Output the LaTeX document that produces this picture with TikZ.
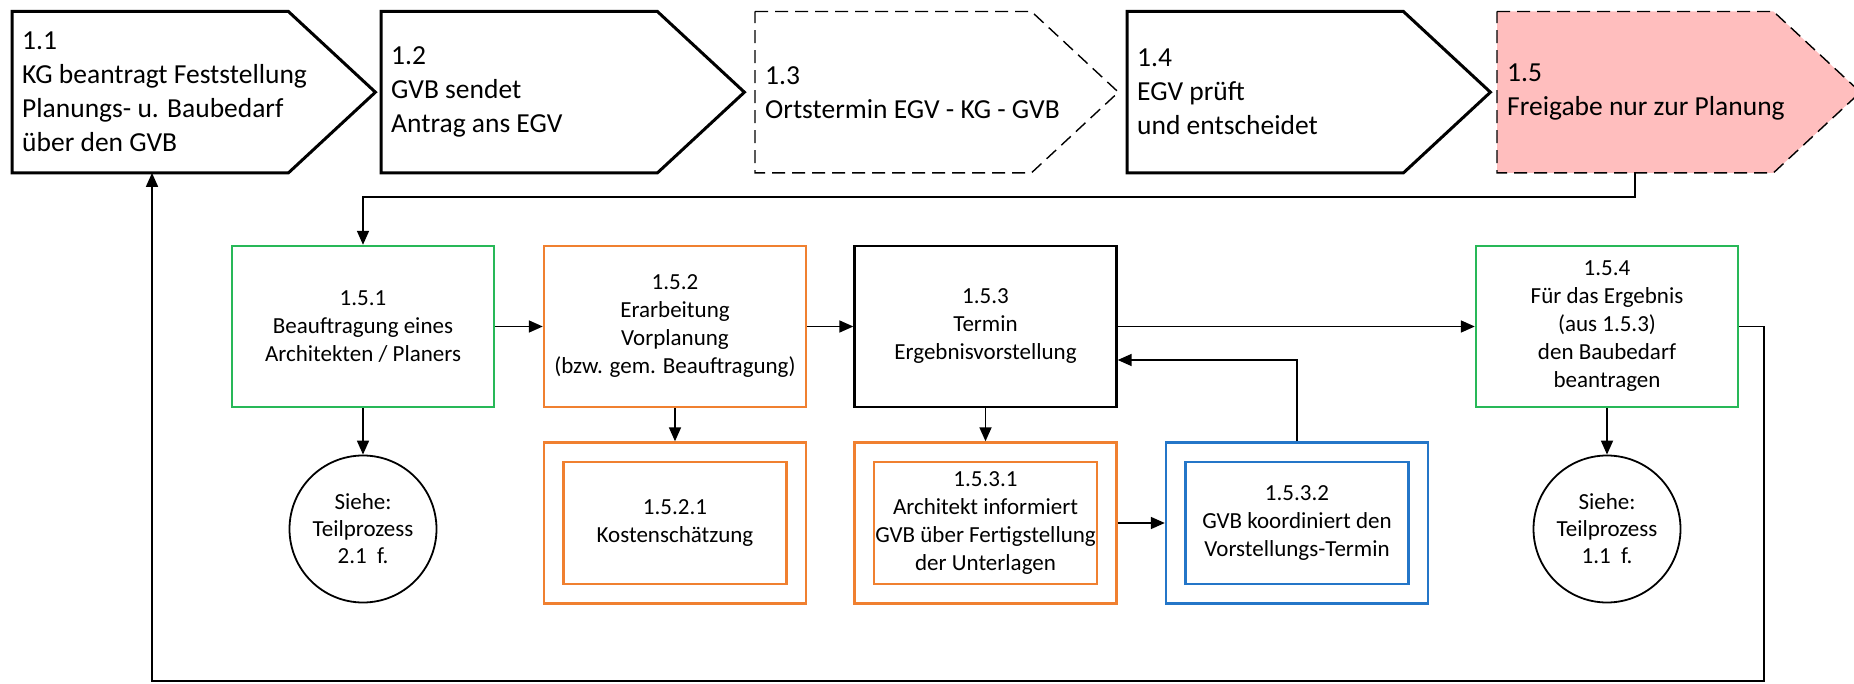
\documentclass[tikz,border=0pt]{standalone}
\usepackage{fontspec}
\setmainfont{Carlito}
\usetikzlibrary{arrows.meta,calc}

\definecolor{boxgreen}{RGB}{40,184,88}
\definecolor{boxorange}{RGB}{240,128,48}
\definecolor{boxblue}{RGB}{36,118,200}
\definecolor{stepred}{RGB}{255,190,190}

% chevron step: #1 name, #2 left x, #3 outline style, #4 text
\newcommand{\chevronstep}[4]{%
  \node[chevbody] (#1) at (#2,11.5) {};
  \draw[#3] (#1.north west) -- (#1.north east) -- ([xshift=87pt]#1.east)
        -- (#1.south east) -- (#1.south west) -- cycle;
  \node[chevtext] (#1t) at ([xshift=10pt]#1.west) {#4};
}

\begin{document}
\begin{tikzpicture}[x=1pt,y=-1pt,
  chevbody/.style={rectangle, anchor=north west, minimum width=276pt,
    minimum height=161pt, inner sep=0pt},
  chevtext/.style={anchor=west, align=left, inner sep=0pt,
    font=\fontsize{27.5}{34}\selectfont},
  boldline/.style={draw=black, line width=3pt},
  dashline/.style={draw=black, line width=1.4pt, dash pattern=on 13pt off 7pt},
  stepbox/.style={rectangle, minimum width=262pt, minimum height=161pt,
    line width=2.4pt, align=center, inner sep=0pt,
    font=\fontsize{23}{28}\selectfont},
  outerbox/.style={rectangle, minimum width=262pt, minimum height=161pt,
    line width=2.4pt, inner sep=0pt},
  innerbox/.style={rectangle, minimum width=223pt, minimum height=122pt,
    line width=2.4pt, align=center, inner sep=0pt,
    font=\fontsize{23}{28}\selectfont},
  refcircle/.style={circle, draw=black, line width=1.8pt, minimum size=147pt,
    align=center, inner sep=0pt, font=\fontsize{23}{27}\selectfont},
  conn/.style={line width=1.7pt, -{Triangle[length=14pt,width=12pt]}}
]
\useasboundingbox (0,0) rectangle (1854,684);

% top row of process steps
\chevronstep{c11}{12}{boldline}{1.1\\KG beantragt Feststellung\\Planungs- u. Baubedarf\\über den GVB}
\chevronstep{c12}{381}{boldline}{1.2\\GVB sendet\\Antrag ans EGV}
\chevronstep{c13}{755}{dashline}{1.3\\Ortstermin EGV - KG - GVB}
\chevronstep{c14}{1127}{boldline}{1.4\\EGV prüft\\und entscheidet}
\chevronstep{c15}{1497}{dashline,fill=stepred}{1.5\\Freigabe nur zur Planung}

% second row
\node[stepbox, draw=boxgreen] (b151) at (363,326.5)
  {1.5.1\\Beauftragung eines\\Architekten / Planers};
\node[stepbox, draw=boxorange] (b152) at (675,326.5)
  {1.5.2\\Erarbeitung\\Vorplanung\\(bzw. gem. Beauftragung)};
\node[stepbox, draw=black] (b153) at (985.5,326.5)
  {1.5.3\\Termin\\Ergebnisvorstellung};
\node[stepbox, draw=boxgreen] (b154) at (1607,326.5)
  {1.5.4\\Für das Ergebnis\\(aus 1.5.3)\\den Baubedarf\\beantragen};

% third row
\node[refcircle] (s21) at (363,529) {Siehe:\\Teilprozess\\2.1\ \ f.};
\node[outerbox, draw=boxorange] (o1521) at (675,523) {};
\node[innerbox, draw=boxorange] (i1521) at (o1521) {1.5.2.1\\Kostenschätzung};
\node[outerbox, draw=boxorange] (o1531) at (985.5,523) {};
\node[innerbox, draw=boxorange] (i1531) at (o1531)
  {1.5.3.1\\Architekt informiert\\GVB über Fertigstellung\\der Unterlagen};
\node[outerbox, draw=boxblue] (o1532) at (1297,523) {};
\node[innerbox, draw=boxblue] (i1532) at (o1532)
  {1.5.3.2\\GVB koordiniert den\\Vorstellungs-Termin};
\node[refcircle] (s11) at (1607,529) {Siehe:\\Teilprozess\\1.1\ \ f.};

% connectors
\draw[conn] (c15.south) -- ++(0,24) -| (b151.north);
\draw[conn] (b151.east) -- (b152.west);
\draw[conn] (b152.east) -- (b153.west);
\draw[conn] (b153.east) -- (b154.west);
\draw[conn] (b151.south) -- (s21.north);
\draw[conn] (b152.south) -- (o1521.north);
\draw[conn] (b153.south) -- (o1531.north);
\draw[conn] (o1531.east) -- (o1532.west);
\draw[conn] (o1532.north) |- ([yshift=-33.5pt]b153.east);
\draw[conn] (b154.south) -- (s11.north);

% return path from 1.5.4 back to step 1.1
\coordinate (loopR) at (1764,681);
\coordinate (loopL) at (152,681);
\draw[conn] (b154.east) -| (loopR) -- (loopL) -- (c11.south -| loopL);
\end{tikzpicture}
\end{document}
